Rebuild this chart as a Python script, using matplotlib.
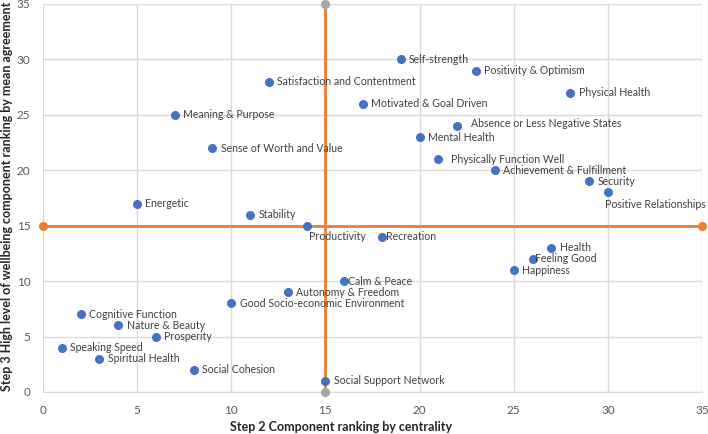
import matplotlib
matplotlib.use("Agg")
import matplotlib.pyplot as plt

labels = ["Self-strength", "Positivity & Optimism", "Physical Health", "Satisfaction and Contentment",
          "Motivated & Goal Driven", "Meaning & Purpose", "Absence or Less Negative States", "Mental Health",
          "Sense of Worth and Value", "Physically Function Well", "Achievement & Fulfillment", "Security",
          "Positive Relationships", "Energetic", "Stability", "Productivity", "Recreation", "Health",
          "Feeling Good", "Happiness", "Calm & Peace", "Autonomy & Freedom", "Good Socio-economic Environment",
          "Cognitive Function", "Nature & Beauty", "Prosperity", "Speaking Speed", "Spiritual Health",
          "Social Cohesion", "Social Support Network"]
centrality = [19, 23, 28, 12, 17, 7, 22, 20, 9, 21, 24, 29, 30, 5, 11, 14, 18, 27, 26, 25, 16, 13, 10,
              2, 4, 6, 1, 3, 8, 15]
agreement = [30, 29, 27, 28, 26, 25, 24, 23, 22, 21, 20, 19, 18, 17, 16, 15, 14, 13, 12, 11, 10, 9, 8,
             7, 6, 5, 4, 3, 2, 1]
threshold = 15
axis_max = 35

plt.rcParams['font.family'] = ['Lato', 'DejaVu Sans']

W, H = 708, 434
fig = plt.figure(figsize=(W/100, H/100), dpi=100)
ax = fig.add_axes([43/W, 1-392/H, (702-43)/W, (392-4)/H])

ax.set_xlim(0, axis_max)
ax.set_ylim(0, axis_max)
ax.set_xticks(range(0, axis_max+1, 5))
ax.set_yticks(range(0, axis_max+1, 5))
ax.grid(True, color='#d9d9d9', linewidth=1)
ax.set_axisbelow(True)
for s in ['top', 'right', 'left']:
    ax.spines[s].set_visible(False)
ax.spines['bottom'].set_color('#d9d9d9')
ax.tick_params(axis='x', length=0, labelsize=8.5, colors='#595959', pad=9)
ax.tick_params(axis='y', length=0, labelsize=8.5, colors='#595959', pad=9)

# threshold lines
ax.plot([threshold, threshold], [0, axis_max], color='#ed7d31', lw=2, zorder=2, clip_on=False)
ax.plot([threshold, threshold], [0, axis_max], 'o', color='#a5a5a5', ms=5.5, zorder=5, clip_on=False)
ax.plot([0, axis_max], [threshold, threshold], color='#ed7d31', lw=2, zorder=2, clip_on=False)
ax.plot([0, axis_max], [threshold, threshold], 'o', color='#ed7d31', ms=5.5, zorder=5, clip_on=False)

ax.scatter(centrality, agreement, s=30, color='#4472c4', zorder=4, clip_on=False)

special = {
    "Absence or Less Negative States": (10, 2, 'left', 'center'),
    "Physically Function Well": (9, 0, 'left', 'center'),
    "Positive Relationships": (-2, -5, 'left', 'top'),
    "Productivity": (2, -4, 'left', 'top'),
    "Recreation": (3, 0, 'left', 'center'),
    "Feeling Good": (2, 0, 'left', 'center'),
    "Calm & Peace": (3, 0, 'left', 'center'),
}
for lab, x, y in zip(labels, centrality, agreement):
    dx, dy, ha, va = special.get(lab, (6, 0, 'left', 'center'))
    ax.annotate(lab, (x, y), xytext=(dx, dy), textcoords='offset points', ha=ha, va=va,
                fontsize=7.6, color='#404040', zorder=6)

fig.text(341/W, 1-427/H, "Step 2 Component ranking by centrality", fontsize=9, fontweight='bold',
         color='#262626', ha='center', va='center')
fig.text(7/W, 1-196/H, "Step 3 High level of wellbeing component ranking by mean agreement", fontsize=9,
         fontweight='bold', color='#262626', ha='center', va='center', rotation=90)

fig.savefig("out.png", dpi=100)
